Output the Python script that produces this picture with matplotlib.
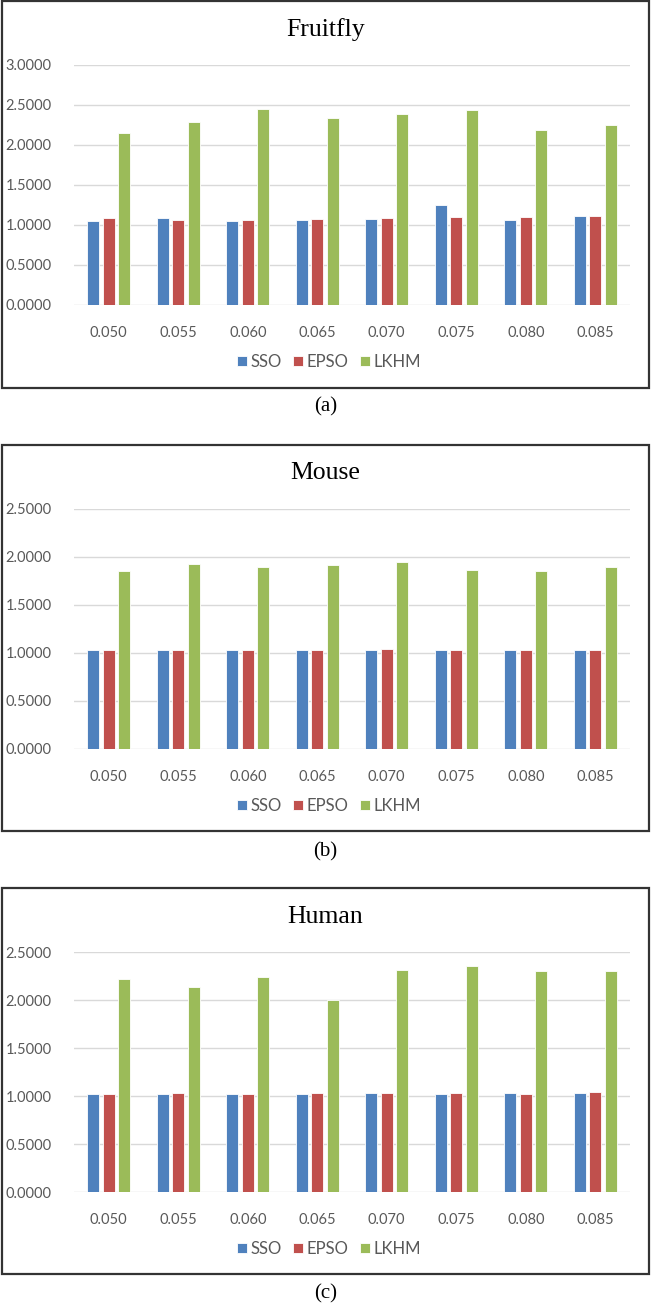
import numpy as np
import matplotlib.pyplot as plt
from matplotlib.patches import Rectangle
from matplotlib.ticker import MultipleLocator, FormatStrFormatter

# categorias (eje x)
categorias = ['0.050', '0.055', '0.060', '0.065', '0.070', '0.075', '0.080', '0.085']
series = ['SSO', 'EPSO', 'LKHM']

# (a) Fruitfly
fruitfly_sso = [1.046, 1.088, 1.054, 1.063, 1.079, 1.250, 1.067, 1.108]
fruitfly_epso = [1.088, 1.067, 1.067, 1.071, 1.088, 1.096, 1.100, 1.108]
fruitfly_lkhm = [2.154, 2.290, 2.446, 2.338, 2.383, 2.438, 2.183, 2.254]

# (b) Mouse
mouse_sso = [1.030, 1.030, 1.030, 1.033, 1.032, 1.028, 1.030, 1.033]
mouse_epso = [1.030, 1.028, 1.035, 1.032, 1.037, 1.030, 1.035, 1.035]
mouse_lkhm = [1.854, 1.927, 1.892, 1.920, 1.944, 1.868, 1.858, 1.892]

# (c) Human
human_sso = [1.026, 1.024, 1.026, 1.026, 1.031, 1.026, 1.031, 1.031]
human_epso = [1.026, 1.028, 1.026, 1.031, 1.031, 1.028, 1.026, 1.038]
human_lkhm = [2.219, 2.135, 2.243, 2.000, 2.313, 2.354, 2.306, 2.302]

titulos = ['Fruitfly', 'Mouse', 'Human']
rotulos = ['(a)', '(b)', '(c)']
ymaxs = [3.0, 2.5, 2.5]

colores = ['#4F81BD', '#C0504D', '#9BBB59']
gris = '#595959'

W, H = 651, 1305
fig = plt.figure(figsize=(W / 100, H / 100), dpi=100)

# posiciones en pixeles: (caja_top, caja_bottom, grid_top, grid_bottom, titulo, leyenda, rotulo)
paneles = [
    (1, 388, 65, 305, 30, 362, 407),
    (445, 831, 509, 749, 473, 806, 852),
    (888, 1274, 952, 1192, 917, 1249, 1294),
]

datos = [
    (fruitfly_sso, fruitfly_epso, fruitfly_lkhm),
    (mouse_sso, mouse_epso, mouse_lkhm),
    (human_sso, human_epso, human_lkhm),
]

x = np.arange(len(categorias))
ancho = 0.175
paso = 0.225

for i, (caja_t, caja_b, g_t, g_b, y_tit, y_ley, y_rot) in enumerate(paneles):
    # marco negro alrededor de cada grafico
    fig.patches.append(Rectangle((2 / W, 1 - caja_b / H), (W - 4) / W, (caja_b - caja_t) / H,
                                 transform=fig.transFigure, fill=False,
                                 edgecolor='#333333', linewidth=1.6))
    ax = fig.add_axes([74 / W, 1 - g_b / H, 556 / W, (g_b - g_t) / H])
    for j, (serie, valores) in enumerate(zip(series, datos[i])):
        ax.bar(x + (j - 1) * paso, valores, width=ancho, color=colores[j],
               edgecolor='white', linewidth=0.6, label=serie, zorder=3)
    ax.set_xlim(-0.5, len(categorias) - 0.5)
    ax.set_ylim(0, ymaxs[i])
    ax.yaxis.set_major_locator(MultipleLocator(0.5))
    ax.yaxis.set_major_formatter(FormatStrFormatter('%.4f'))
    ax.set_xticks(x)
    ax.set_xticklabels(categorias)
    ax.grid(axis='y', color='#D9D9D9', linewidth=1.0, zorder=0)
    for s in ax.spines.values():
        s.set_visible(False)
    ax.tick_params(length=0, colors=gris, labelsize=10.5)
    ax.tick_params(axis='x', pad=15)
    ax.tick_params(axis='y', pad=16)
    for t in ax.get_xticklabels() + ax.get_yticklabels():
        t.set_fontfamily('Lato')

    fig.text(0.5, 1 - y_tit / H, titulos[i], ha='center', va='center',
             fontsize=18.5, family='Liberation Serif')
    ax.legend(loc='center', bbox_to_anchor=(0.505, 1 - y_ley / H), bbox_transform=fig.transFigure,
              ncol=3, frameon=False, handlelength=0.6, handleheight=0.6, handletextpad=0.2,
              columnspacing=0.7, prop={'family': 'Lato', 'size': 12}, labelcolor=gris)
    fig.text(0.5, 1 - y_rot / H, rotulos[i], ha='center', va='center',
             fontsize=15, family='Liberation Serif')

fig.savefig('out.png', dpi=100)
